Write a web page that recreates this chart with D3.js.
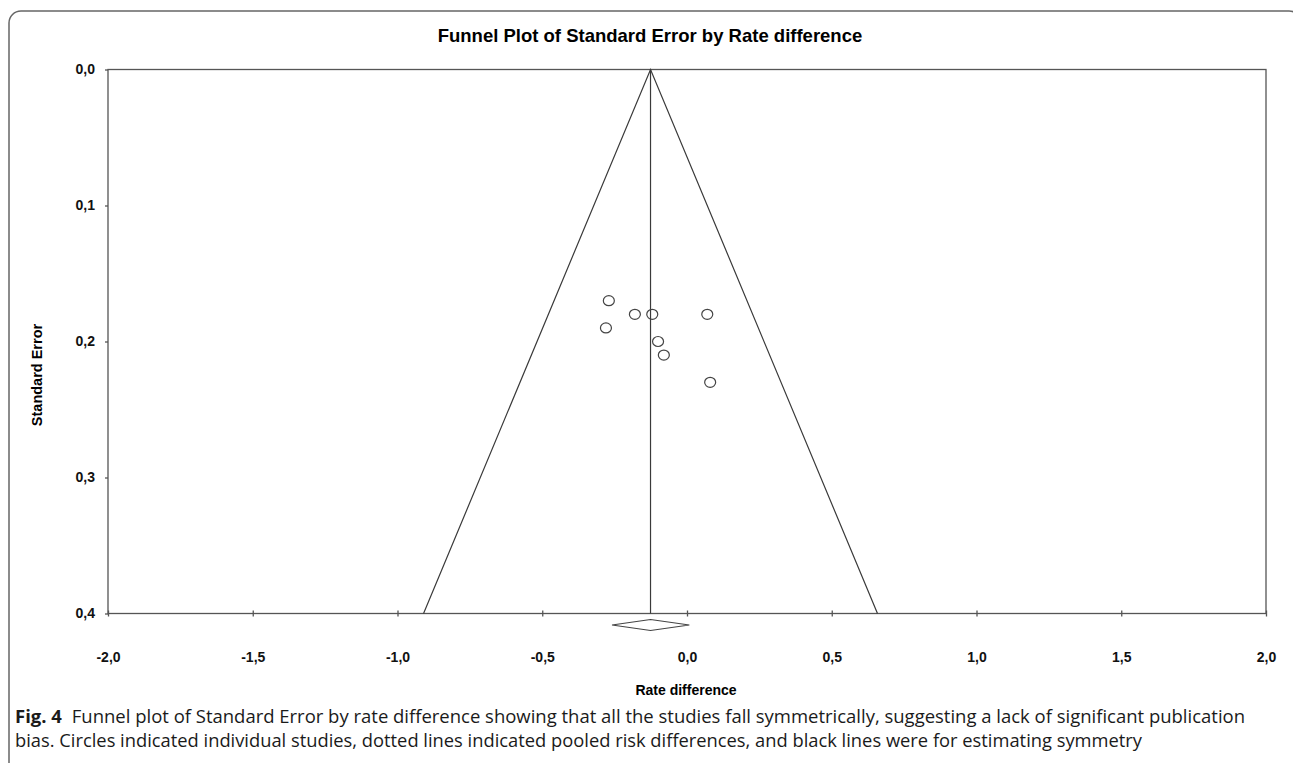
<!DOCTYPE html>
<html>
<head>
<meta charset="utf-8">
<script src="https://cdn.jsdelivr.net/npm/d3@7"></script>
<style>
  body { margin: 0; background: #fff; }
  svg { display: block; }
</style>
</head>
<body>
<div id="chart"></div>
<script>
// study points (rate difference, standard error)
const studyRD = [-0.27, -0.18, -0.12, 0.07, -0.28, -0.10, -0.08, 0.08];
const studySE = [0.17, 0.18, 0.18, 0.18, 0.19, 0.20, 0.21, 0.23];

// pooled estimate and its confidence interval
const pooled = -0.126;
const pooledCI = [-0.259, 0.008];

const xTicks = [-2.0, -1.5, -1.0, -0.5, 0.0, 0.5, 1.0, 1.5, 2.0];
const yTicks = [0.0, 0.1, 0.2, 0.3, 0.4];

const captionLines = [
  "Funnel plot of Standard Error by rate difference showing that all the studies fall symmetrically, suggesting a lack of significant publication",
  "bias. Circles indicated individual studies, dotted lines indicated pooled risk differences, and black lines were for estimating symmetry"
];

const width = 1293, height = 763;
const plot = { left: 108, right: 1266, top: 69.5, bottom: 613.5 };

// comma decimals and a plain hyphen for negatives
const locale = d3.formatLocale({ decimal: ",", thousands: ".", grouping: [3], currency: ["", ""], minus: "-" });
const fmt = locale.format(".1f");

const x = d3.scaleLinear().domain([-2, 2]).range([plot.left, plot.right]);
const y = d3.scaleLinear().domain([0, 0.4]).range([plot.top, plot.bottom]);

const svg = d3.select("#chart").append("svg")
  .attr("width", width).attr("height", height);

// outer figure border
svg.append("rect")
  .attr("x", 9).attr("y", 11)
  .attr("width", 1292).attr("height", 770)
  .attr("rx", 12)
  .attr("fill", "none").attr("stroke", "#666").attr("stroke-width", 1.5);

// title
svg.append("text")
  .attr("x", 650).attr("y", 42)
  .attr("text-anchor", "middle")
  .style("font-family", "'Liberation Sans', Arial, sans-serif")
  .style("font-weight", "bold").style("font-size", "18.5px")
  .text("Funnel Plot of Standard Error by Rate difference");

const lineColor = "#3a3a3a";

// plot frame
svg.append("rect")
  .attr("x", plot.left).attr("y", plot.top)
  .attr("width", plot.right - plot.left).attr("height", plot.bottom - plot.top)
  .attr("fill", "none").attr("stroke", "#555").attr("stroke-width", 1.3);

// y axis
const yAxis = svg.append("g")
  .attr("transform", `translate(${plot.left},0)`)
  .call(d3.axisLeft(y).tickValues(yTicks).tickFormat(fmt).tickSize(3).tickPadding(10));
yAxis.select(".domain").remove();

// x axis (ticks cross the line)
const xAxis = svg.append("g")
  .attr("transform", `translate(0,${plot.bottom})`)
  .call(d3.axisBottom(x).tickValues(xTicks).tickFormat(fmt).tickSize(0).tickPadding(39));
xAxis.select(".domain").remove();
xAxis.selectAll(".tick line").attr("y1", -3).attr("y2", 3);

svg.selectAll(".tick line").attr("stroke", "#555").attr("stroke-width", 1.3);
svg.selectAll(".tick text")
  .attr("fill", "#111")
  .style("font-family", "'Liberation Sans', Arial, sans-serif")
  .style("font-weight", "bold").style("font-size", "14px");

// axis titles
svg.append("text")
  .attr("transform", `translate(42,375) rotate(-90)`)
  .attr("text-anchor", "middle")
  .style("font-family", "'Liberation Sans', Arial, sans-serif")
  .style("font-weight", "bold").style("font-size", "14.5px")
  .text("Standard Error");

svg.append("text")
  .attr("x", 686).attr("y", 695)
  .attr("text-anchor", "middle")
  .style("font-family", "'Liberation Sans', Arial, sans-serif")
  .style("font-weight", "bold").style("font-size", "14px")
  .text("Rate difference");

// funnel (95% limits) and pooled line
const seMax = 0.4;
const funnel = [[pooled - 1.96 * seMax, seMax], [pooled, 0], [pooled + 1.96 * seMax, seMax]];
svg.append("path")
  .attr("d", d3.line().x(d => x(d[0])).y(d => y(d[1]))(funnel))
  .attr("fill", "none").attr("stroke", lineColor).attr("stroke-width", 1.2);

svg.append("line")
  .attr("x1", x(pooled)).attr("x2", x(pooled))
  .attr("y1", y(0)).attr("y2", y(seMax))
  .attr("stroke", lineColor).attr("stroke-width", 1.2);

// pooled diamond under the axis
const dy = plot.bottom + 11.5;
const diamond = [[pooledCI[0], dy], [pooled, dy - 5.5], [pooledCI[1], dy], [pooled, dy + 5.5]];
svg.append("path")
  .attr("d", d3.line().x(d => x(d[0])).y(d => d[1])(diamond) + "Z")
  .attr("fill", "none").attr("stroke", "#444").attr("stroke-width", 1.2);

// studies
svg.append("g").selectAll("ellipse")
  .data(studyRD.map((v, i) => [v, studySE[i]]))
  .enter().append("ellipse")
  .attr("cx", d => x(d[0])).attr("cy", d => y(d[1]))
  .attr("rx", 5.5).attr("ry", 5)
  .attr("fill", "none").attr("stroke", "#444").attr("stroke-width", 1.2);

// caption
const cap = svg.append("g")
  .style("font-family", "'Open Sans', 'Noto Sans', sans-serif")
  .style("font-size", "18.5px").attr("fill", "#1a1a1a");

const line1 = cap.append("text").attr("x", 15).attr("y", 723)
  .attr("textLength", 1230).attr("lengthAdjust", "spacingAndGlyphs");
line1.append("tspan").style("font-weight", "bold").text("Fig. 4");
line1.append("tspan").attr("dx", 10).text(captionLines[0]);

cap.append("text").attr("x", 15).attr("y", 747)
  .attr("textLength", 1127).attr("lengthAdjust", "spacingAndGlyphs")
  .text(captionLines[1]);
</script>
</body>
</html>
